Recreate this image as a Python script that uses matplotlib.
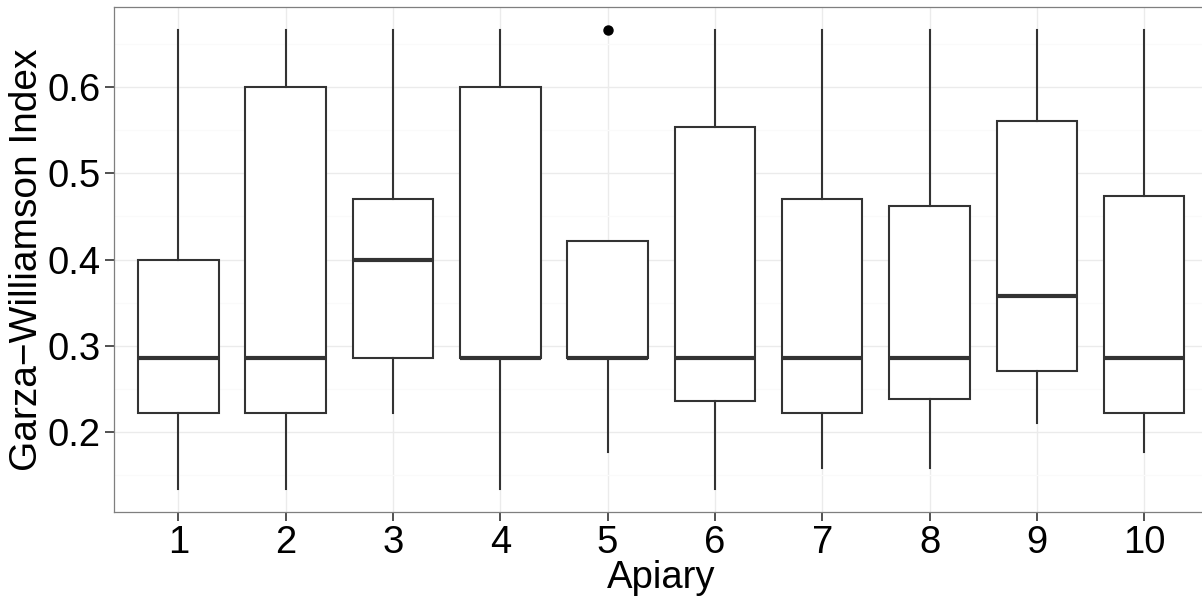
import matplotlib
matplotlib.use('Agg')
import matplotlib.pyplot as plt
from matplotlib.ticker import MultipleLocator

plt.rcParams['font.family'] = ['Liberation Sans', 'DejaVu Sans']

# box statistics per apiary
apiary = [1, 2, 3, 4, 5, 6, 7, 8, 9, 10]
whis_lo = [0.1333, 0.1333, 0.2222, 0.1333, 0.1765, 0.1333, 0.1579, 0.1579, 0.2105, 0.1765]
q1 = [0.2222, 0.2222, 0.2857, 0.2857, 0.2857, 0.2353, 0.2222, 0.2381, 0.2700, 0.2222]
median = [0.2857, 0.2857, 0.4000, 0.2857, 0.2857, 0.2857, 0.2857, 0.2857, 0.3571, 0.2857]
q3 = [0.4000, 0.6000, 0.4706, 0.6000, 0.4211, 0.5538, 0.4706, 0.4622, 0.5614, 0.4737]
whis_hi = [0.6667, 0.6667, 0.6667, 0.6667, 0.4211, 0.6667, 0.6667, 0.6667, 0.6667, 0.6667]
outliers = [[], [], [], [], [0.6667], [], [], [], [], []]

stats = []
for i in range(len(apiary)):
    stats.append({'label': str(apiary[i]), 'whislo': whis_lo[i], 'q1': q1[i],
                  'med': median[i], 'q3': q3[i], 'whishi': whis_hi[i],
                  'fliers': outliers[i]})

fig = plt.figure(figsize=(12.02, 6), dpi=100)
# panel runs past the right edge, as in the reference
ax = fig.add_axes([114 / 1202, 88 / 600, 1094.5 / 1202, 505 / 600])

box_col = '#333333'
ax.bxp(stats, positions=apiary, widths=0.75, showcaps=False, patch_artist=True,
       boxprops=dict(facecolor='white', edgecolor=box_col, linewidth=1.5),
       whiskerprops=dict(color=box_col, linewidth=1.5),
       medianprops=dict(color=box_col, linewidth=3.0, solid_capstyle='butt'),
       flierprops=dict(marker='o', markerfacecolor='black', markeredgecolor='black',
                       markersize=6.5))

ax.set_xlim(0.4, 10.6)
ax.set_ylim(0.1067, 0.6933)
ax.yaxis.set_major_locator(MultipleLocator(0.1))
ax.yaxis.set_minor_locator(MultipleLocator(0.05))
ax.set_xticks(apiary)
ax.set_xticklabels([str(a) for a in apiary])

ax.set_axisbelow(True)
ax.grid(which='major', color='#ebebeb', linewidth=1.0)
ax.grid(which='minor', axis='y', color='#fafafa', linewidth=1.0)
ax.tick_params(which='minor', length=0)
ax.tick_params(which='major', length=6.5, width=1.2, color='#333333',
               labelsize=27.5, labelcolor='black', pad=3)
for s in ax.spines.values():
    s.set_color('#7f7f7f')
    s.set_linewidth(0.9)

ax.set_xlabel('Apiary', fontsize=27.5, labelpad=-1)
ax.set_ylabel('Garza\u2212Williamson Index', fontsize=28, labelpad=2)

fig.savefig('out.png', dpi=100)
